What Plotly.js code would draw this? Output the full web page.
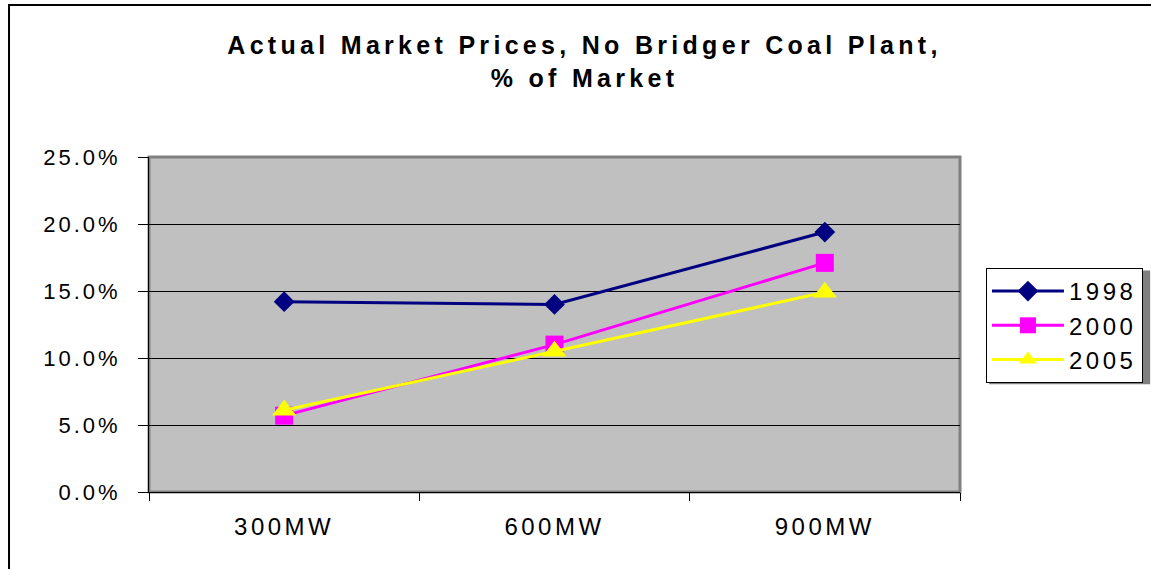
<!DOCTYPE html>
<html>
<head>
<meta charset="utf-8">
<script src="https://cdn.plot.ly/plotly-3.0.1.min.js"></script>
<style>
  html, body { margin: 0; padding: 0; background: #fff; }
  #chart { width: 1151px; height: 569px; }
  .xtick text { letter-spacing: 3.5px; }
  .ytick text { letter-spacing: 3px; }
  .legendtext { letter-spacing: 3.5px; }
  .gtitle { letter-spacing: 4.3px; }
</style>
</head>
<body>
<div id="chart"></div>
<script>
const categories = ["300MW", "600MW", "900MW"];
const seriesNames = ["1998", "2000", "2005"];
const values1998 = [0.142, 0.140, 0.194];
const values2000 = [0.057, 0.110, 0.171];
const values2005 = [0.061, 0.105, 0.149];

const FONT = "Liberation Sans, Arial, sans-serif";

function trace(name, ys, color, symbol, size) {
  return {
    type: "scatter", mode: "lines+markers", name: name,
    x: categories, y: ys,
    line: { color: color, width: 3 },
    marker: { color: color, symbol: symbol, size: size, line: { width: 0 } }
  };
}

const data = [
  trace(seriesNames[0], values1998, "#000080", "diamond", 16),
  trace(seriesNames[1], values2000, "#FF00FF", "square", 18),
  trace(seriesNames[2], values2005, "#FFFF00", "triangle-up", 21)
];

const layout = {
  width: 1151, height: 569,
  margin: { l: 149, r: 191, t: 157, b: 77 },
  paper_bgcolor: "#ffffff",
  plot_bgcolor: "#C0C0C0",
  font: { family: FONT, color: "#000" },
  title: {
    text: "<b>Actual Market Prices, No Bridger Coal Plant,<br>% of Market</b>",
    font: { family: FONT, size: 25, color: "#000" },
    x: 0.537, xref: "paper", xanchor: "center",
    y: 0.905, yref: "container", yanchor: "middle"
  },
  xaxis: {
    type: "category", range: [-0.5, 2.5],
    showgrid: false, zeroline: false,
    showline: true, linecolor: "#000", linewidth: 1,
    ticks: "outside", tickson: "boundaries", ticklen: 8, tickcolor: "#000",
    tickfont: { family: FONT, size: 24, color: "#000" },
    ticklabelstandoff: 13
  },
  yaxis: {
    range: [0, 0.25], dtick: 0.05, tickformat: ".1%",
    showgrid: true, gridcolor: "#000", gridwidth: 1,
    zeroline: false,
    showline: true, linecolor: "#000", linewidth: 1,
    ticks: "outside", ticklen: 10, tickcolor: "#000",
    tickfont: { family: FONT, size: 22, color: "#000" },
    ticklabelstandoff: 13
  },
  legend: {
    xref: "container", yref: "container",
    x: 0.8566, y: 0.529, xanchor: "left", yanchor: "top",
    bgcolor: "#ffffff", bordercolor: "#000", borderwidth: 1,
    font: { family: FONT, size: 24, color: "#000" },
    itemwidth: 72
  },
  shapes: [
    { type: "rect", xref: "paper", yref: "paper", x0: -0.1726, x1: 1.3, y0: -0.35, y1: 1.4537,
      line: { color: "#000", width: 2 }, fillcolor: "rgba(0,0,0,0)", layer: "below" },
    { type: "rect", xref: "paper", yref: "paper", x0: 0, x1: 1, y0: 0, y1: 1,
      line: { color: "#808080", width: 3 }, fillcolor: "rgba(0,0,0,0)", layer: "below" },
    { type: "rect", xref: "paper", yref: "paper", x0: 1.036, x1: 1.2345, y0: 0.322, y1: 0.661,
      line: { width: 0 }, fillcolor: "#808080", layer: "below" }
  ]
};

Plotly.newPlot("chart", data, layout, { displayModeBar: false, staticPlot: true });
</script>
</body>
</html>
